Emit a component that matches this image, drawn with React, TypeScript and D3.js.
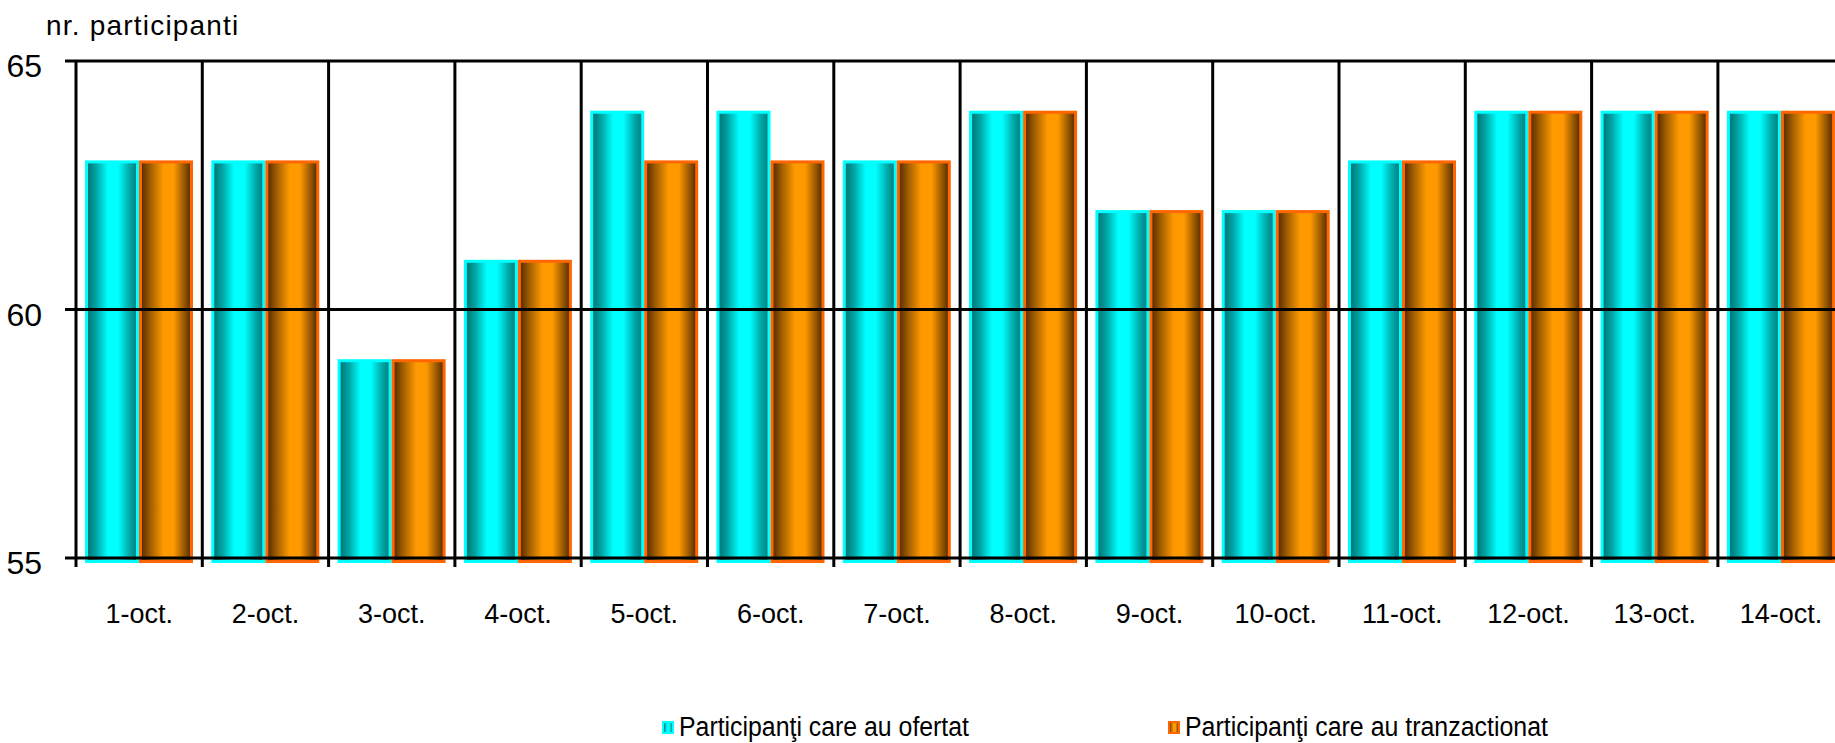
import React, { useRef, useEffect } from 'react';
import * as d3 from 'd3';

const categories = ['1-oct.', '2-oct.', '3-oct.', '4-oct.', '5-oct.', '6-oct.', '7-oct.', '8-oct.', '9-oct.', '10-oct.', '11-oct.', '12-oct.', '13-oct.', '14-oct.'];
const ofertat = [63, 63, 59, 61, 64, 64, 63, 64, 62, 62, 63, 64, 64, 64];
const tranzactionat = [63, 63, 59, 61, 63, 63, 63, 64, 62, 62, 63, 64, 64, 64];
const yTicks = [55, 60, 65];
const seriesNames = ['Participanţi care au ofertat', 'Participanţi care au tranzactionat'];

const width = 1835;
const height = 743;
const plot = { left: 76, top: 61, bottom: 558, catWidth: 126.3 };
const font = 'Liberation Sans, Arial, sans-serif';

const App = () => {
  const ref = useRef<SVGSVGElement>(null);

  useEffect(() => {
    const svg = d3.select(ref.current);
    svg.selectAll('*').remove();

    // gradients
    const defs = svg.append('defs');
    const grad = (id: string, stops: [number, string][]) => {
      const g = defs.append('linearGradient').attr('id', id).attr('x1', '0%').attr('x2', '100%').attr('y1', '0%').attr('y2', '0%');
      stops.forEach(([o, c]) => g.append('stop').attr('offset', o).attr('stop-color', c));
    };
    grad('gCyan', [[0, '#006e6e'], [0.2, '#00a8a8'], [0.42, '#00ffff'], [0.62, '#00ffff'], [0.85, '#00a6a6'], [1, '#007b7b']]);
    grad('gOrange', [[0, '#4f2800'], [0.2, '#a35f00'], [0.45, '#ff9900'], [0.65, '#ff9900'], [0.85, '#9a5a00'], [1, '#4f2800']]);

    const x0 = d3
      .scaleBand()
      .domain(categories)
      .range([plot.left, plot.left + categories.length * plot.catWidth]);

    const x1 = d3.scaleBand().domain(['0', '1']).range([9, 117]);

    const y = d3.scaleLinear().domain([55, 65]).range([plot.bottom, plot.top]);

    // bars
    const series = [
      { values: ofertat, fill: 'url(#gCyan)', stroke: '#00ffff' },
      { values: tranzactionat, fill: 'url(#gOrange)', stroke: '#ff6600' },
    ];
    series.forEach((s, si) => {
      svg
        .append('g')
        .selectAll('rect')
        .data(s.values)
        .enter()
        .append('rect')
        .attr('x', (d, i) => (x0(categories[i]) as number) + (x1(String(si)) as number) + 1.5)
        .attr('y', (d) => y(d) + 1.5)
        .attr('width', x1.bandwidth() - 3)
        .attr('height', (d) => y(55) + 5 - y(d) - 3)
        .attr('fill', s.fill)
        .attr('stroke', s.stroke)
        .attr('stroke-width', 3);
    });

    // grid lines
    svg
      .append('g')
      .selectAll('line')
      .data(yTicks)
      .enter()
      .append('line')
      .attr('x1', plot.left - 11)
      .attr('x2', width)
      .attr('y1', (d) => y(d))
      .attr('y2', (d) => y(d))
      .attr('stroke', '#000')
      .attr('stroke-width', 3);

    // category separators
    svg
      .append('g')
      .selectAll('line')
      .data(categories)
      .enter()
      .append('line')
      .attr('x1', (d) => x0(d) as number)
      .attr('x2', (d) => x0(d) as number)
      .attr('y1', plot.top)
      .attr('y2', plot.bottom + 9)
      .attr('stroke', '#000')
      .attr('stroke-width', 3);

    // y labels
    svg
      .append('g')
      .selectAll('text')
      .data(yTicks)
      .enter()
      .append('text')
      .attr('x', 42)
      .attr('y', (d) => y(d) + 16)
      .attr('text-anchor', 'end')
      .attr('font-family', font)
      .attr('font-size', 32)
      .attr('fill', '#000')
      .text((d) => d);

    // x labels
    svg
      .append('g')
      .selectAll('text')
      .data(categories)
      .enter()
      .append('text')
      .attr('x', (d) => (x0(d) as number) + x0.bandwidth() / 2)
      .attr('y', 623)
      .attr('text-anchor', 'middle')
      .attr('font-family', font)
      .attr('font-size', 27)
      .attr('fill', '#000')
      .text((d) => d);

    // axis title
    svg
      .append('text')
      .attr('x', 46)
      .attr('y', 35)
      .attr('font-family', font)
      .attr('font-size', 28)
      .attr('letter-spacing', 1.2)
      .attr('fill', '#000')
      .text('nr. participanti');

    // legend
    const legendX = [662, 1168];
    const legendLen = [290, 363];
    const legendFill = ['url(#gCyan)', 'url(#gOrange)'];
    const legendStroke = ['#00ffff', '#ff6600'];
    const lg = svg.append('g');
    seriesNames.forEach((name, i) => {
      lg.append('rect')
        .attr('x', legendX[i] + 1)
        .attr('y', 722)
        .attr('width', 10)
        .attr('height', 11)
        .attr('fill', legendFill[i])
        .attr('stroke', legendStroke[i])
        .attr('stroke-width', 2);
      lg.append('text')
        .attr('x', legendX[i] + 17)
        .attr('y', 736)
        .attr('font-family', font)
        .attr('font-size', 27)
        .attr('textLength', legendLen[i])
        .attr('lengthAdjust', 'spacingAndGlyphs')
        .attr('fill', '#000')
        .text(name);
    });
  }, []);

  return (
    <svg
      ref={ref}
      width={width}
      height={height}
      style={{ position: 'absolute', left: 0, top: 0, background: '#fff' }}
    ></svg>
  );
};

export default App;
